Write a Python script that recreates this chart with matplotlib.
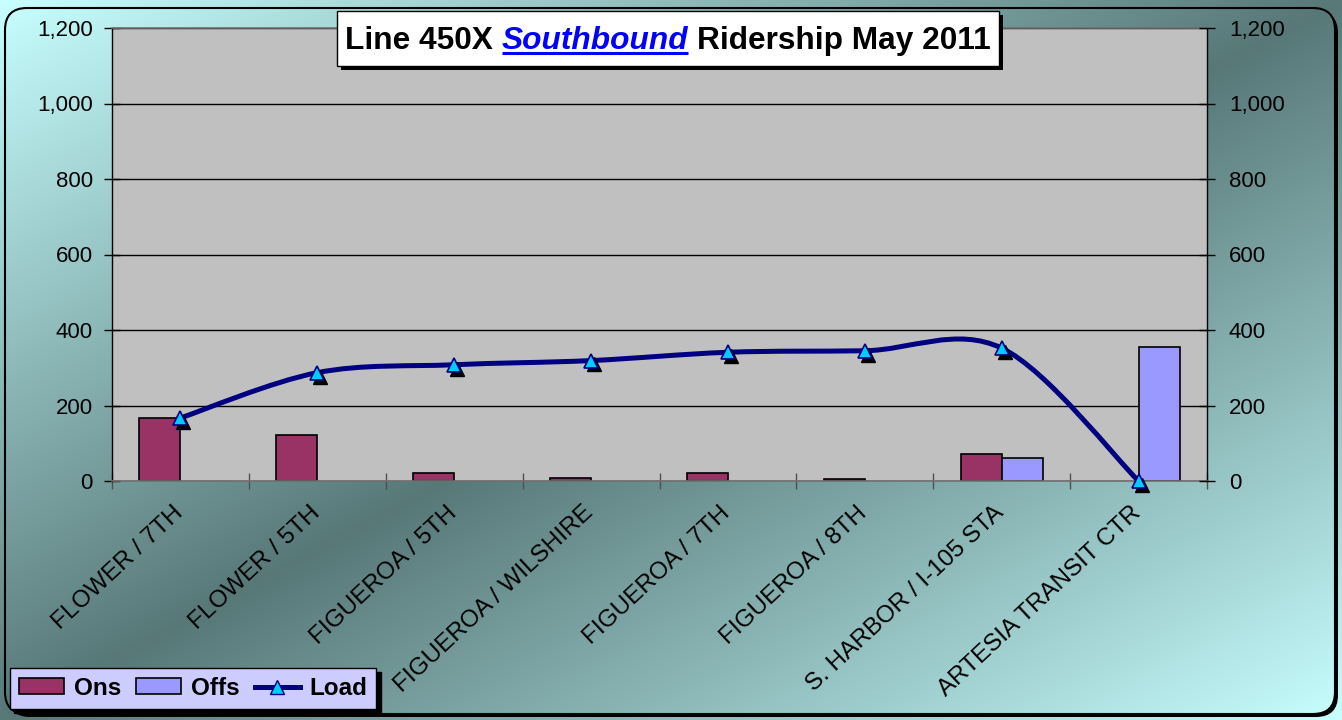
import numpy as np
import matplotlib
matplotlib.use("Agg")
import matplotlib.pyplot as plt
from matplotlib.patches import FancyBboxPatch, Rectangle, PathPatch, Patch
from matplotlib.path import Path
from matplotlib.lines import Line2D
from matplotlib.transforms import offset_copy

# ---------------- data ----------------
stops = ["FLOWER / 7TH", "FLOWER / 5TH", "FIGUEROA / 5TH", "FIGUEROA / WILSHIRE",
         "FIGUEROA / 7TH", "FIGUEROA / 8TH", "S. HARBOR / I-105 STA",
         "ARTESIA TRANSIT CTR"]
ons = [167, 122, 22, 9, 22, 4, 71, 0]
offs = [0, 0, 0, 0, 0, 0, 62, 356]
load = [167, 287, 308, 319, 341, 345, 352, 0]
y_ticks = [0, 200, 400, 600, 800, 1000, 1200]
title_parts = ["Line 450X", "Southbound", "Ridership May 2011"]
legend_labels = ["Ons", "Offs", "Load"]

FONT = "Liberation Sans"
ONS_C = "#993366"
OFFS_C = "#9999ff"
LOAD_C = "#000080"
MARK_C = "#00ccff"

W, H = 1342, 720
fig = plt.figure(figsize=(W / 100, H / 100), dpi=100)

# ---------------- background ----------------
bg = fig.add_axes([0, 0, 1, 1], zorder=0)
bg.set_axis_off()
yy, xx = np.mgrid[0:H, 0:W]
t = (xx / W + yy / H) / 2.0
d = 1 - np.abs(2 * t - 1)
light = np.array([200, 255, 255]) / 255.0
dark = np.array([88, 120, 120]) / 255.0
img = light + d[..., None] * (dark - light)
bg.imshow(img, extent=[0, W, H, 0], aspect="auto", interpolation="bilinear")

shadow = FancyBboxPatch((8, 11), 1330, 706, boxstyle="round,pad=0,rounding_size=22",
                        facecolor="black", edgecolor="black", lw=0)
bg.add_patch(shadow)
frame = FancyBboxPatch((5, 8), 1330, 706, boxstyle="round,pad=0,rounding_size=22",
                       facecolor="none", edgecolor="black", lw=1.5, zorder=3)
bg.add_patch(frame)
im2 = bg.imshow(img, extent=[0, W, H, 0], aspect="auto", interpolation="bilinear", zorder=2)
im2.set_clip_path(frame)
bg.set_xlim(0, W)
bg.set_ylim(H, 0)

# ---------------- main plot ----------------
left, right, top, bottom = 112, 1207, 28, 481
ax = fig.add_axes([left / W, 1 - bottom / H, (right - left) / W, (bottom - top) / H], zorder=2)
ax.set_facecolor("#c0c0c0")
n = len(stops)
x = np.arange(n)
bw = 0.30
b1 = ax.bar(x - bw / 2, ons, width=bw, color=ONS_C, edgecolor="black", lw=1.2, zorder=2)
b2 = ax.bar(x + bw / 2, offs, width=bw, color=OFFS_C, edgecolor="black", lw=1.2, zorder=2)
for bars, vals in ((b1, ons), (b2, offs)):
    for rect, v in zip(bars, vals):
        if v == 0:
            rect.set_visible(False)

# smoothed load line (Excel-style smoothing)
yv = np.array(load, float)
verts = [(x[0], yv[0])]
codes = [Path.MOVETO]
for i in range(n - 1):
    pm = (x[i - 1], yv[i - 1]) if i > 0 else (x[i], yv[i])
    pn = (x[i + 2], yv[i + 2]) if i + 2 < n else (x[i + 1], yv[i + 1])
    c1 = (x[i] + (x[i + 1] - pm[0]) / 6, yv[i] + (yv[i + 1] - pm[1]) / 6)
    c2 = (x[i + 1] - (pn[0] - x[i]) / 6, yv[i + 1] - (pn[1] - yv[i]) / 6)
    verts += [c1, c2, (x[i + 1], yv[i + 1])]
    codes += [Path.CURVE4] * 3
ax.add_patch(PathPatch(Path(verts, codes), facecolor="none", edgecolor=LOAD_C, lw=3.6,
                       capstyle="round", joinstyle="round", zorder=4))
sh_tr = offset_copy(ax.transData, fig=fig, x=2.2, y=-2.8, units="points")
ax.plot(x, load, linestyle="none", marker="^", ms=10, color="black", transform=sh_tr, zorder=5,
        clip_on=False)
ax.plot(x, load, linestyle="none", marker="^", ms=10, mfc=MARK_C, mec=LOAD_C, mew=1.2,
        zorder=6, clip_on=False)

ax.set_xlim(-0.5, n - 0.5)
ax.set_ylim(0, 1200)
ax.set_yticks(y_ticks)
ax.set_yticklabels([f"{v:,}" for v in y_ticks], fontsize=16, family=FONT)
ax.set_xticks(np.arange(-0.5, n, 1))
ax.set_xticklabels([])
ax.tick_params(axis="x", direction="inout", length=11.5, color="#505050", width=1)
ax.tick_params(axis="y", direction="inout", length=11.5, color="black", width=1, pad=8)
ax.yaxis.grid(True, color="black", lw=1)
ax.set_axisbelow(True)
for s in ["left", "right"]:
    ax.spines[s].set_color("black")
    ax.spines[s].set_linewidth(1)
for s in ["top", "bottom"]:
    ax.spines[s].set_color("#707070")
    ax.spines[s].set_linewidth(1.2)

ax2 = ax.twinx()
ax2.set_ylim(0, 1200)
ax2.set_yticks(y_ticks)
ax2.set_yticklabels([f"{v:,}" for v in y_ticks], fontsize=16, family=FONT)
ax2.tick_params(axis="y", direction="inout", length=11.5, color="black", width=1, pad=10)
for s in ax2.spines.values():
    s.set_visible(False)

lab_tr = offset_copy(ax.transData, fig=fig, x=-6, y=-15, units="points")
for i, s in enumerate(stops):
    ax.text(i, 0, s, transform=lab_tr, rotation=43, rotation_mode="anchor",
            ha="right", va="top", fontsize=17.5, family=FONT, color="black")

# ---------------- title ----------------
tax = fig.add_axes([0, 0, 1, 1], zorder=5)
tax.set_axis_off()
tax.set_xlim(0, W)
tax.set_ylim(H, 0)
bx, by, bwid, bht = 337, 11, 662, 55
tax.add_patch(Rectangle((bx + 4, by + 4), bwid, bht, facecolor="black", edgecolor="black", lw=0))
tax.add_patch(Rectangle((bx, by), bwid, bht, facecolor="white", edgecolor="black", lw=1))
r = fig.canvas.get_renderer()
tsize = 22.8
styles = [dict(style="normal", color="black"), dict(style="italic", color="#0000ff"),
          dict(style="normal", color="black")]
objs = []
for part, st in zip(title_parts, styles):
    o = tax.text(0, 49, part, fontsize=tsize, family=FONT, weight="bold", ha="left",
                 va="baseline", **st)
    objs.append(o)
widths = [o.get_window_extent(r).width for o in objs]
space = 0.278 * tsize / 0.72
total = sum(widths) + 2 * space
cx = bx + bwid / 2
xs = cx - total / 2
for o, w in zip(objs, widths):
    o.set_x(xs)
    if o is objs[1]:
        tax.plot([xs, xs + w], [53, 53], color="#0000ff", lw=2.2, solid_capstyle="butt")
    xs += w + space

# ---------------- legend ----------------
handles = [Patch(facecolor=ONS_C, edgecolor="black", lw=1.2),
           Patch(facecolor=OFFS_C, edgecolor="black", lw=1.2),
           Line2D([], [], color=LOAD_C, lw=3.6, marker="^", ms=10, mfc=MARK_C, mec=LOAD_C)]
leg = fig.legend(handles, legend_labels, loc="lower left",
                 bbox_to_anchor=(10 / W, 1 - 709 / H), ncol=3, frameon=True,
                 prop=dict(family=FONT, weight="bold", size=17.5), handlelength=1.85,
                 handleheight=0.6, handletextpad=0.4, columnspacing=0.62, borderpad=0.38,
                 borderaxespad=0, fancybox=False,
                 shadow=dict(ox=3, oy=-3, facecolor="black", edgecolor="black", alpha=1))
leg.get_frame().set_facecolor("#ccccff")
leg.get_frame().set_edgecolor("black")
leg.get_frame().set_linewidth(1)
leg.get_frame().set_alpha(1)
leg.set_zorder(10)

fig.savefig("out.png", dpi=100)
